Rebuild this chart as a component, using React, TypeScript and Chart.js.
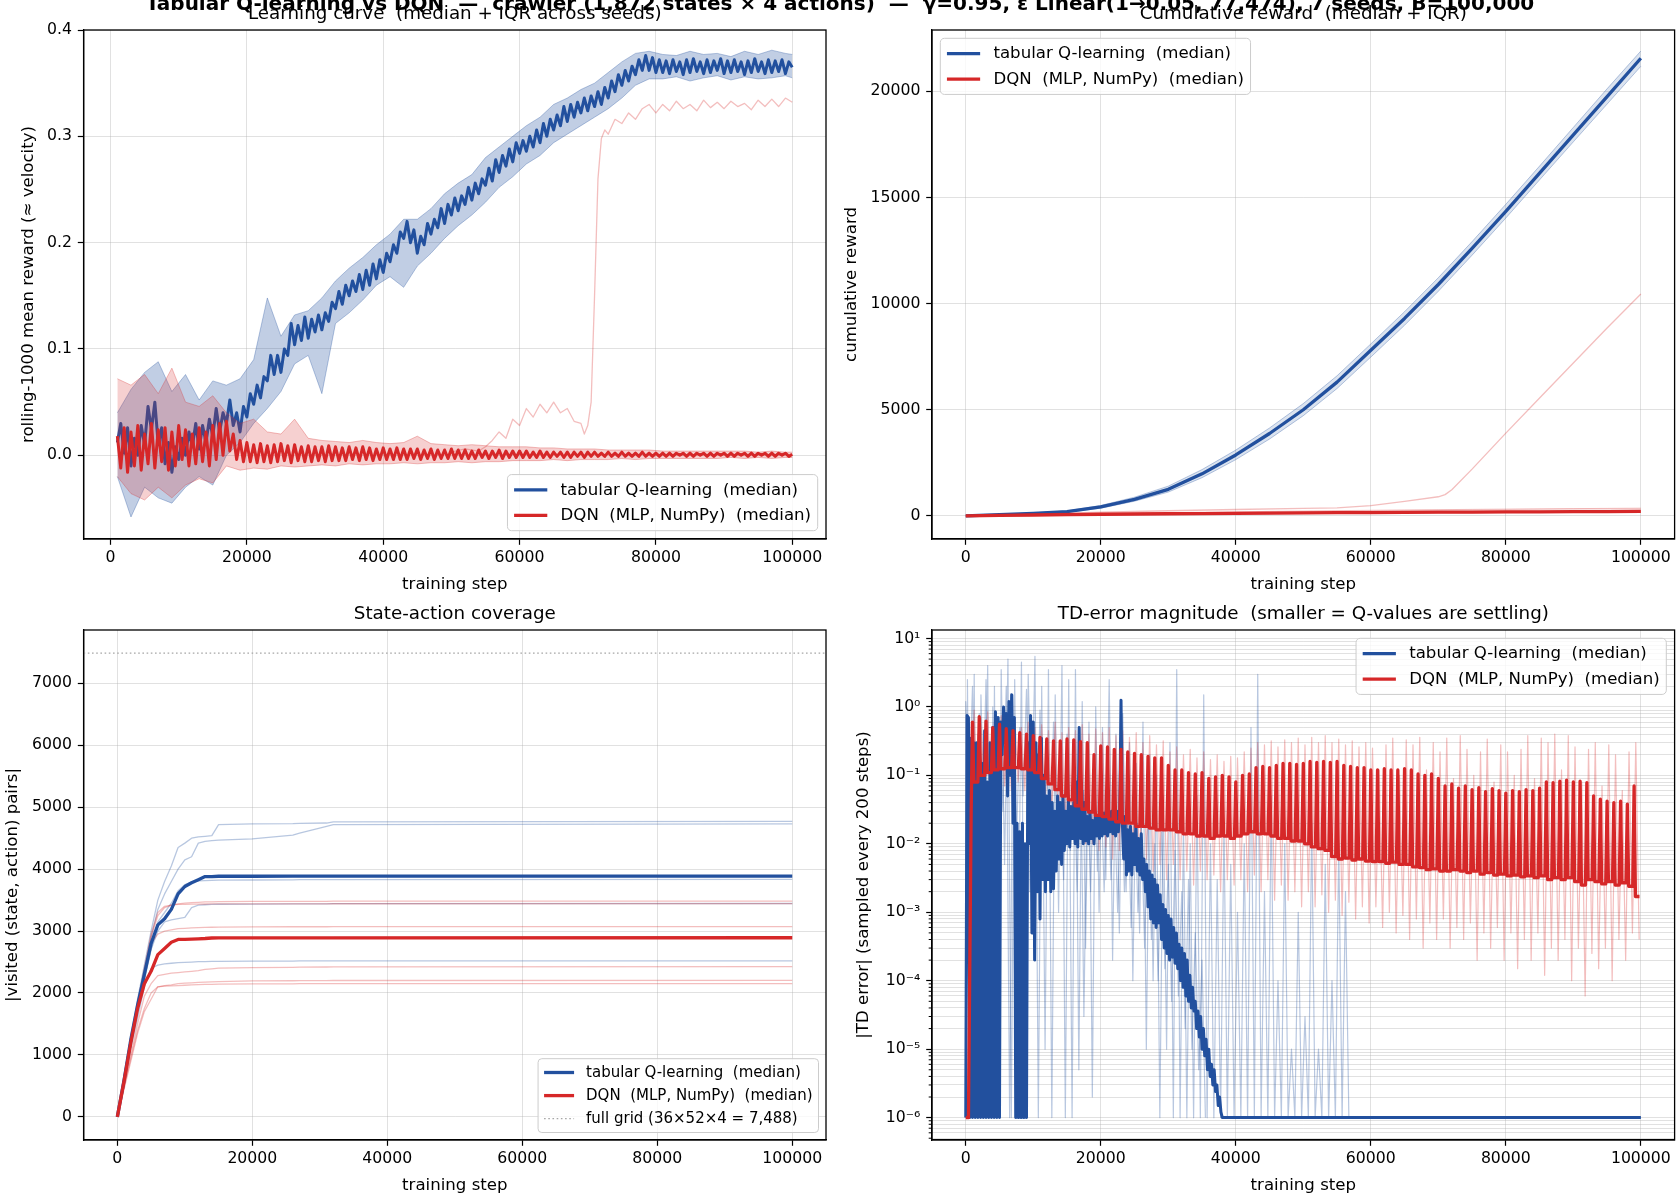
import { useEffect, useRef } from "react";
import { Chart, registerables } from "chart.js";

Chart.register(...registerables);

// ---------- page geometry & type ----------
const W = 1680;
const H = 1200;
const Y_AXIS_W = 80;
const X_AXIS_H = 44;

const FONT = '"DejaVu Sans", "Liberation Sans", sans-serif';
const TICK_PX = 15.7;
const LABEL_PX = 16.6;
const TITLE_PX = 18.3;
const SUPTITLE_PX = 20;

const BLUE = "#22509e";
const RED = "#d62728";
const BLUE_SOFT = "rgba(34,80,158,0.32)";
const BLUE_FILL = "rgba(34,80,158,0.28)";
const RED_SOFT = "rgba(214,39,40,0.3)";
const RED_FILL = "rgba(214,39,40,0.22)";
const GREY_DOT = "#a6a6a6";
const GRID = "rgba(176,176,176,0.38)";

Chart.defaults.font.family = FONT;

const SUPTITLE =
  "Tabular Q-learning vs DQN  —  crawler (1,872 states × 4 actions)  —  γ=0.95, ε Linear(1→0.05, 77,474), 7 seeds, B=100,000";

// ---------- helpers ----------
type Pt = { x: number; y: number };
const grid = (start: number, step: number, n: number): number[] =>
  Array.from({ length: n }, (_, i) => start + i * step);
const zip = (xs: number[], ys: number[]): Pt[] => ys.map((y, i) => ({ x: xs[i], y }));
const weave = (...parts: Pt[][]): Pt[] => parts.flat().sort((a, b) => a.x - b.x);

// ---------- learning curve (rolling-1000 mean reward, every 500 steps) ----------
const STEPS_500 = grid(1000, 500, 199);
const BAND_STEPS = grid(1000, 2000, 50).concat([100000]);

const Q_REWARD_MED = [
  0.012, 0.03, 0.002, 0.026, -0.01, 0.016, 0.0, 0.028, 0.01, 0.046, 0.024, 0.05, 0.01, 0.026, -0.008, 0.012, -0.016, 0.008, -0.004, 0.016,
  0.0, 0.022, 0.008, 0.03, 0.006, 0.028, 0.012, 0.034, 0.018, 0.044, 0.022, 0.04, 0.03, 0.052, 0.028, 0.04, 0.022, 0.046, 0.036, 0.058,
  0.048, 0.066, 0.054, 0.074, 0.07, 0.094, 0.076, 0.094, 0.078, 0.1, 0.094, 0.124, 0.104, 0.122, 0.108, 0.13, 0.11, 0.128, 0.116, 0.132,
  0.118, 0.134, 0.126, 0.144, 0.138, 0.154, 0.142, 0.16, 0.15, 0.164, 0.154, 0.17, 0.156, 0.174, 0.16, 0.18, 0.166, 0.184, 0.172, 0.19,
  0.182, 0.198, 0.19, 0.21, 0.204, 0.22, 0.2, 0.212, 0.19, 0.206, 0.198, 0.218, 0.208, 0.222, 0.214, 0.232, 0.218, 0.236, 0.226, 0.242,
  0.23, 0.244, 0.236, 0.252, 0.24, 0.256, 0.246, 0.26, 0.254, 0.27, 0.258, 0.278, 0.266, 0.282, 0.272, 0.288, 0.276, 0.294, 0.284, 0.296,
  0.286, 0.3, 0.29, 0.306, 0.294, 0.312, 0.3, 0.316, 0.306, 0.32, 0.31, 0.328, 0.314, 0.33, 0.318, 0.332, 0.322, 0.336, 0.324, 0.338,
  0.328, 0.342, 0.33, 0.346, 0.336, 0.352, 0.342, 0.358, 0.348, 0.362, 0.352, 0.366, 0.358, 0.372, 0.362, 0.376, 0.362, 0.374, 0.36, 0.372,
  0.36, 0.371, 0.359, 0.372, 0.361, 0.37, 0.358, 0.372, 0.36, 0.373, 0.361, 0.37, 0.359, 0.372, 0.36, 0.371, 0.362, 0.373, 0.359, 0.371,
  0.36, 0.372, 0.361, 0.37, 0.358, 0.371, 0.36, 0.373, 0.361, 0.37, 0.359, 0.372, 0.36, 0.371, 0.361, 0.372, 0.359, 0.37, 0.365,
];
const Q_BAND_LO = [
  -0.02, -0.058, -0.03, -0.04, -0.045, -0.03, -0.02, -0.028, 0.0, 0.012,
  0.03, 0.044, 0.06, 0.086, 0.094, 0.058, 0.124, 0.134, 0.146, 0.16,
  0.168, 0.158, 0.178, 0.19, 0.204, 0.216, 0.226, 0.238, 0.252, 0.262,
  0.274, 0.282, 0.294, 0.302, 0.31, 0.318, 0.326, 0.336, 0.348, 0.354,
  0.354, 0.356, 0.352, 0.355, 0.357, 0.353, 0.356, 0.354, 0.355, 0.357, 0.355,
];
const Q_BAND_HI = [
  0.04, 0.062, 0.078, 0.088, 0.06, 0.076, 0.052, 0.07, 0.066, 0.072,
  0.09, 0.148, 0.112, 0.132, 0.136, 0.148, 0.164, 0.176, 0.186, 0.198,
  0.208, 0.222, 0.222, 0.232, 0.246, 0.256, 0.264, 0.28, 0.29, 0.3,
  0.31, 0.318, 0.33, 0.336, 0.344, 0.35, 0.36, 0.37, 0.378, 0.38,
  0.377, 0.376, 0.38, 0.377, 0.378, 0.375, 0.38, 0.377, 0.381, 0.378, 0.377,
];
const DQN_REWARD_MED = [
  0.018, -0.012, 0.026, -0.016, 0.022, -0.01, 0.028, -0.014, 0.02, -0.008, 0.03, -0.012, 0.024, -0.006, 0.026, -0.014, 0.022, -0.01, 0.028, -0.004,
  0.024, -0.01, 0.02, -0.008, 0.026, -0.006, 0.022, -0.01, 0.028, -0.004, 0.03, 0.0, 0.032, 0.004, 0.02, -0.004, 0.014, -0.006, 0.012, -0.006,
  0.01, -0.007, 0.011, -0.006, 0.009, -0.007, 0.01, -0.006, 0.011, -0.005, 0.009, -0.007, 0.01, -0.005, 0.008, -0.006, 0.009, -0.006, 0.008, -0.005,
  0.008, -0.006, 0.009, -0.005, 0.008, -0.005, 0.007, -0.005, 0.008, -0.004, 0.007, -0.005, 0.008, -0.004, 0.007, -0.005, 0.006, -0.004, 0.007, -0.004,
  0.006, -0.004, 0.007, -0.004, 0.006, -0.004, 0.006, -0.003, 0.006, -0.004, 0.005, -0.003, 0.006, -0.004, 0.005, -0.003, 0.005, -0.003, 0.006, -0.003,
  0.005, -0.003, 0.005, -0.003, 0.004, -0.003, 0.005, -0.002, 0.004, -0.003, 0.004, -0.002, 0.005, -0.003, 0.004, -0.002, 0.004, -0.002, 0.004, -0.002,
  0.004, -0.002, 0.003, -0.002, 0.004, -0.002, 0.003, -0.002, 0.003, -0.001, 0.003, -0.002, 0.003, -0.002, 0.003, -0.001, 0.003, -0.002, 0.003, -0.001,
  0.003, -0.001, 0.002, -0.001, 0.003, -0.001, 0.002, -0.001, 0.003, -0.001, 0.002, -0.001, 0.002, -0.001, 0.003, -0.001, 0.002, -0.001, 0.002, -0.001,
  0.002, -0.001, 0.002, -0.001, 0.002, 0.0, 0.002, -0.001, 0.002, -0.001, 0.002, 0.0, 0.002, -0.001, 0.002, -0.001, 0.002, 0.0, 0.002, -0.001,
  0.002, -0.001, 0.002, 0.0, 0.002, -0.001, 0.002, -0.001, 0.002, 0.0, 0.002, -0.001, 0.002, -0.001, 0.002, 0.0, 0.002, -0.001, 0.001,
];
const DQN_BAND_LO = [
  -0.02, -0.036, -0.042, -0.03, -0.04, -0.028, -0.022, -0.026, -0.01, -0.014,
  -0.012, -0.013, -0.01, -0.011, -0.01, -0.009, -0.01, -0.008, -0.009, -0.008,
  -0.008, -0.007, -0.008, -0.007, -0.007, -0.006, -0.007, -0.006, -0.006, -0.005,
  -0.005, -0.005, -0.004, -0.005, -0.004, -0.004, -0.004, -0.003, -0.004, -0.003,
  -0.003, -0.003, -0.003, -0.003, -0.003, -0.002, -0.003, -0.002, -0.003, -0.002, -0.002,
];
const DQN_BAND_HI = [
  0.072, 0.066, 0.076, 0.058, 0.082, 0.05, 0.046, 0.056, 0.04, 0.03,
  0.034, 0.022, 0.02, 0.034, 0.016, 0.014, 0.013, 0.012, 0.014, 0.012,
  0.011, 0.012, 0.018, 0.011, 0.01, 0.009, 0.01, 0.009, 0.008, 0.008,
  0.008, 0.007, 0.007, 0.006, 0.006, 0.006, 0.005, 0.005, 0.005, 0.005,
  0.004, 0.004, 0.004, 0.004, 0.004, 0.004, 0.004, 0.003, 0.004, 0.003, 0.003,
];
// the one DQN seed that eventually learns to crawl
const DQN_LATE_STEPS = [50000, 52000, 54000]
  .concat(grid(55000, 1000, 15))
  .concat(grid(69500, 500, 8))
  .concat(grid(74000, 1000, 27));
const DQN_LATE_REWARD = [
  0.003, 0.006, 0.004,
  0.008, 0.014, 0.022, 0.016, 0.034, 0.028, 0.044, 0.036, 0.048, 0.04, 0.05, 0.04, 0.044, 0.032, 0.03,
  0.02, 0.028, 0.05, 0.15, 0.26, 0.298, 0.306, 0.302,
  0.316, 0.312, 0.322, 0.316, 0.326, 0.33, 0.322, 0.33, 0.324, 0.333, 0.326, 0.33, 0.324, 0.334,
  0.327, 0.332, 0.326, 0.333, 0.328, 0.331, 0.325, 0.334, 0.328, 0.335, 0.328, 0.336, 0.332,
];

// ---------- cumulative reward ----------
const STEPS_5K = grid(0, 5000, 21);
const Q_CUM_MED = [0, 60, 120, 200, 420, 780, 1250, 1980, 2870, 3880, 5000, 6300, 7800, 9300, 10900, 12600, 14350, 16150, 17950, 19750, 21560];
const Q_CUM_LO = [0, 50, 100, 165, 360, 690, 1120, 1800, 2650, 3620, 4720, 6000, 7480, 8980, 10580, 12280, 14030, 15830, 17620, 19400, 21180];
const Q_CUM_HI = [0, 70, 140, 235, 490, 880, 1400, 2180, 3100, 4140, 5290, 6600, 8100, 9620, 11220, 12920, 14680, 16480, 18300, 20120, 21900];
const DQN_CUM_MED = [0, 20, 40, 60, 75, 88, 100, 110, 120, 130, 140, 148, 156, 164, 172, 180, 186, 192, 198, 204, 210];
const DQN_CUM_LO = [0, 12, 24, 36, 48, 58, 68, 78, 88, 98, 106, 114, 122, 130, 138, 145, 152, 158, 164, 170, 175];
const DQN_CUM_HI = [0, 28, 56, 82, 105, 128, 150, 170, 190, 210, 228, 246, 262, 278, 292, 305, 318, 330, 342, 352, 362];
const DQN_LATE_CUM_STEPS = [0, 10000, 20000, 30000, 40000, 50000, 55000, 60000, 65000, 70000, 71000, 72000, 75000, 80000, 85000, 90000, 95000, 100000];
const DQN_LATE_CUM = [0, 80, 170, 240, 300, 350, 380, 480, 680, 900, 1000, 1230, 2200, 3900, 5550, 7200, 8850, 10450];

// ---------- state-action coverage ----------
const COV_STEPS = [0, 1000, 2000, 3000, 4000, 5000, 6000, 7000, 8000, 9000, 10000, 11000, 12000, 13000, 14000, 15000, 20000, 26000, 27000, 31000, 32000, 100000];
const FULL_GRID = 7488;
const Q_COV_MED = [0, 600, 1250, 1800, 2300, 2800, 3100, 3200, 3350, 3600, 3720, 3780, 3830, 3880, 3880, 3885, 3885, 3886, 3886, 3887, 3887, 3888];
const DQN_COV_MED = [0, 580, 1200, 1750, 2150, 2350, 2620, 2720, 2820, 2865, 2866, 2870, 2875, 2880, 2888, 2890, 2890, 2890, 2890, 2891, 2891, 2892];
const Q_COV_SEEDS = [
  [0, 650, 1300, 1900, 2450, 3000, 3500, 3800, 4050, 4350, 4420, 4500, 4520, 4530, 4540, 4720, 4730, 4735, 4740, 4745, 4765, 4770],
  [0, 600, 1200, 1800, 2350, 2900, 3350, 3600, 3800, 4000, 4150, 4200, 4420, 4450, 4460, 4470, 4490, 4550, 4580, 4690, 4720, 4730],
  [0, 550, 1150, 1700, 2200, 2700, 3150, 3300, 3450, 3650, 3750, 3790, 3810, 3815, 3820, 3822, 3825, 3828, 3830, 3830, 3832, 3835],
  [0, 600, 1200, 1750, 2250, 2700, 3000, 3150, 3180, 3200, 3220, 3380, 3420, 3425, 3430, 3433, 3436, 3438, 3440, 3440, 3442, 3445],
  [0, 550, 1100, 1600, 2100, 2400, 2450, 2470, 2480, 2490, 2495, 2500, 2505, 2508, 2510, 2512, 2515, 2516, 2518, 2518, 2520, 2520],
];
const DQN_COV_SEEDS = [
  [0, 600, 1250, 1850, 2400, 2950, 3300, 3400, 3420, 3440, 3450, 3460, 3465, 3470, 3472, 3475, 3478, 3480, 3480, 3480, 3482, 3485],
  [0, 620, 1250, 1850, 2350, 2900, 3250, 3380, 3420, 3430, 3432, 3434, 3436, 3437, 3438, 3439, 3440, 3440, 3440, 3440, 3441, 3442],
  [0, 580, 1150, 1700, 2250, 2800, 2950, 3000, 3020, 3040, 3045, 3050, 3055, 3060, 3062, 3065, 3068, 3070, 3070, 3070, 3071, 3072],
  [0, 500, 1000, 1500, 1950, 2150, 2280, 2300, 2320, 2330, 2340, 2350, 2360, 2380, 2390, 2400, 2410, 2415, 2418, 2420, 2422, 2425],
  [0, 480, 950, 1400, 1750, 2000, 2100, 2120, 2130, 2150, 2160, 2165, 2170, 2175, 2180, 2185, 2195, 2198, 2200, 2200, 2202, 2205],
  [0, 450, 900, 1350, 1700, 1900, 2100, 2110, 2115, 2120, 2125, 2130, 2135, 2138, 2140, 2143, 2146, 2148, 2150, 2150, 2151, 2152],
];

// ---------- |TD error| (sampled every 200 steps) ----------
const Q_TD_STEPS = grid(0, 200, 191).concat([100000]);
const Q_TD_MED = [
  1e-6, 0.75, 0.7, 1e-6, 0.35, 1e-6, 0.3, 1e-6, 0.3, 1e-6,
  0.4, 1e-6, 0.15, 1e-6, 0.45, 1e-6, 0.08, 1e-6, 0.3, 1e-6,
  0.5, 1e-6, 0.85, 1e-6, 0.7, 1e-6, 0.6, 0.2, 1.0, 0.3,
  0.8, 0.05, 1.2, 0.1, 1.5, 0.02, 0.7, 1e-6, 0.02, 1e-6,
  0.015, 1e-6, 0.02, 1e-6, 0.01, 1e-6, 0.3, 0.01, 0.75, 0.0005,
  0.6, 0.0002, 0.3, 0.002, 0.2, 0.0008, 0.35, 0.003, 0.1, 0.002,
  0.05, 0.003, 0.06, 0.002, 0.04, 0.0022, 0.03, 0.004, 0.05, 0.006,
  0.04, 0.005, 0.05, 0.008, 0.03, 0.01, 0.045, 0.009, 0.035, 0.012,
  0.04, 0.01, 0.08, 0.009, 0.5, 0.012, 0.06, 0.01, 0.04, 0.011,
  0.025, 0.01, 0.03, 0.012, 0.022, 0.01, 0.028, 0.013, 0.025, 0.012,
  0.03, 0.013, 0.028, 0.014, 0.03, 0.013, 0.025, 0.015, 0.03, 0.014,
  0.028, 0.013, 0.03, 0.015, 0.026, 1.25, 0.02, 0.006, 0.025, 0.0035,
  0.016, 0.004, 0.018, 0.0035, 0.014, 0.005, 0.02, 0.004, 0.012, 0.0035,
  0.014, 0.003, 0.006, 0.002, 0.005, 0.0012, 0.004, 0.0008, 0.0035, 0.0007,
  0.003, 0.0006, 0.0025, 0.0007, 0.0018, 0.0004, 0.0013, 0.0003, 0.0011, 0.00025,
  0.0009, 0.0002, 0.0008, 0.00022, 0.0006, 0.00018, 0.0005, 0.00015, 0.00034, 0.0001,
  0.0003, 0.00008, 0.00025, 0.00006, 0.0002, 0.00005, 0.00012, 0.00004, 0.00008, 0.000036,
  0.00005, 0.00002, 0.000036, 0.000015, 0.00003, 0.00001, 0.00002, 0.000008, 0.000014, 0.000005,
  0.00001, 0.000004, 0.000006, 0.000003, 0.000005, 0.0000024, 0.000003, 0.0000015, 0.000002, 0.0000012,
  1e-6,
  1e-6,
];
// two individual tabular seeds, as alternating highs (k*1000 + 250) and lows (k*1000 + 750)
const Q_TD_SEED_A_HI = [
  2.5, 3, 1.5, 4, 2, 3.5, 5, 2.5, 4.5, 3,
  5.5, 2, 3.5, 1.5, 4, 2.5, 3.5, 1.2, 0.6, 1.0,
  0.5, 2.5, 0.4, 0.8, 0.3, 0.15, 0.6, 0.2, 0.1, 0.05,
  0.3, 3.5, 0.02, 0.01, 0.05, 1.5, 0.01, 0.003, 0.02, 0.005,
  0.001, 0.01, 0.5, 3, 0.002, 0.05, 1e-4, 0.01, 1e-5, 0.001,
  3e-5, 0.02, 1e-5, 0.005, 1e-4, 0.01, 0.002,
];
const Q_TD_SEED_A_LO = [
  1e-6, 1e-6, 0.01, 1e-6, 1e-6, 0.005, 1e-6, 1e-4, 1e-6, 0.02,
  1e-6, 1e-5, 1e-6, 0.001, 1e-6, 1e-6, 5e-6, 3e-4, 2e-6, 0.001,
  0.003, 2e-4, 5e-4, 0.002, 1e-4, 5e-4, 1e-5, 1e-4, 1e-6, 1e-5,
  1e-6, 1e-6, 1e-6, 1e-6, 1e-6, 1e-6, 1e-6, 1e-6, 1e-6, 1e-6,
  1e-6, 1e-6, 1e-6, 1e-6, 1e-6, 1e-6, 1e-6, 1e-6, 1e-6, 1e-6,
  1e-6, 1e-6, 1e-6, 1e-6, 1e-6, 1e-6, 1e-6,
];
const Q_TD_SEED_B_HI = [
  1.2, 2, 0.8, 2.5, 1, 0.6, 2, 1.5, 0.5, 1.8,
  0.4, 0.9, 0.3, 0.6, 0.2, 0.4, 0.15, 0.3, 0.1, 0.2,
  0.08, 0.15, 0.05, 0.1, 0.04, 0.06, 0.02, 0.04, 0.01, 0.02,
  0.005, 0.008, 0.002, 0.003, 5e-4, 2e-4,
];
const Q_TD_SEED_B_LO = [
  0.05, 0.002, 0.02, 1e-6, 0.01, 0.03, 1e-6, 0.01, 0.05, 0.002,
  0.01, 0.003, 0.005, 0.01, 0.003, 0.008, 0.002, 3e-5, 0.002, 0.004,
  0.002, 0.003, 0.001, 0.002, 6e-4, 0.001, 3e-4, 4e-4, 1e-4, 1.5e-4,
  5e-5, 6e-5, 2e-5, 1e-5, 5e-6, 1e-6,
];
// DQN median: spike tops at k*1000 (k = 1..99); level between spikes held from k*1000+200 to k*1000+800 (k = 0..99)
const DQN_TD_PEAK = [
  0.6, 0.72, 0.62, 0.5, 0.56, 0.48, 0.45, 0.42, 0.4, 0.38,
  0.36, 0.34, 0.32, 0.32, 0.34, 0.33, 0.31, 0.3, 0.2, 0.27,
  0.26, 0.24, 0.24, 0.22, 0.21, 0.2, 0.19, 0.18, 0.18, 0.14,
  0.12, 0.12, 0.11, 0.105, 0.11, 0.09, 0.095, 0.1, 0.095, 0.08,
  0.1, 0.105, 0.13, 0.135, 0.13, 0.14, 0.15, 0.15, 0.145, 0.15,
  0.16, 0.155, 0.16, 0.155, 0.16, 0.14, 0.135, 0.13, 0.13, 0.12,
  0.12, 0.125, 0.12, 0.12, 0.125, 0.12, 0.105, 0.1, 0.105, 0.09,
  0.07, 0.075, 0.065, 0.07, 0.062, 0.066, 0.058, 0.064, 0.06, 0.055,
  0.06, 0.058, 0.062, 0.06, 0.065, 0.08, 0.078, 0.082, 0.085, 0.08,
  0.082, 0.078, 0.05, 0.045, 0.042, 0.04, 0.042, 0.038, 0.07,
];
const DQN_TD_FLOOR = [
  0.03, 0.08, 0.1, 0.11, 0.12, 0.125, 0.13, 0.13, 0.125, 0.12,
  0.11, 0.09, 0.075, 0.062, 0.05, 0.044, 0.036, 0.032, 0.029, 0.026,
  0.025, 0.023, 0.021, 0.02, 0.02, 0.018, 0.018, 0.017, 0.016, 0.016,
  0.016, 0.015, 0.014, 0.014, 0.013, 0.013, 0.012, 0.013, 0.013, 0.012,
  0.013, 0.014, 0.015, 0.014, 0.014, 0.013, 0.012, 0.012, 0.011, 0.011,
  0.01, 0.009, 0.0085, 0.008, 0.0065, 0.006, 0.0062, 0.0058, 0.006, 0.0056,
  0.0055, 0.0055, 0.0052, 0.0054, 0.005, 0.005, 0.0046, 0.0045, 0.0042, 0.0043,
  0.004, 0.004, 0.0042, 0.004, 0.0038, 0.004, 0.0036, 0.0038, 0.0035, 0.0036,
  0.0034, 0.0035, 0.0033, 0.0034, 0.0032, 0.0034, 0.003, 0.0032, 0.003, 0.0032,
  0.0028, 0.0025, 0.003, 0.0028, 0.0026, 0.0028, 0.0025, 0.0027, 0.0024, 0.0017,
];
// spread of the individual DQN seeds: highs at k*1000 + 250, lows at k*1000 + 750
const DQN_TD_SEED_HI = [
  0.3, 0.9, 0.7, 0.85, 0.6, 0.75, 0.55, 0.7, 0.5, 0.6,
  0.5, 0.55, 0.45, 0.6, 0.42, 0.5, 0.45, 0.55, 0.4, 0.48,
  0.42, 0.5, 0.38, 0.45, 0.36, 0.42, 0.3, 0.38, 0.28, 0.32,
  0.22, 0.26, 0.2, 0.24, 0.18, 0.22, 0.17, 0.2, 0.16, 0.19,
  0.18, 0.22, 0.25, 0.3, 0.28, 0.32, 0.26, 0.33, 0.3, 0.35,
  0.28, 0.36, 0.3, 0.38, 0.3, 0.34, 0.28, 0.32, 0.26, 0.3,
  0.25, 0.12, 0.28, 0.35, 0.1, 0.33, 0.28, 0.36, 0.12, 0.3,
  0.22, 0.35, 0.09, 0.38, 0.24, 0.1, 0.22, 0.34, 0.08, 0.28,
  0.22, 0.1, 0.24, 0.38, 0.09, 0.35, 0.3, 0.4, 0.12, 0.38,
  0.26, 0.08, 0.24, 0.3, 0.07, 0.28, 0.2, 0.06, 0.22, 0.3,
];
const DQN_TD_SEED_LO = [
  0.02, 0.05, 0.04, 0.06, 0.05, 0.07, 0.06, 0.08, 0.06, 0.05,
  0.04, 0.035, 0.03, 0.02, 0.02, 0.015, 0.012, 0.01, 0.01, 0.008,
  0.009, 0.006, 0.008, 0.005, 0.007, 0.004, 0.006, 0.004, 0.005, 0.003,
  0.005, 0.003, 0.004, 0.0025, 0.004, 0.003, 0.0035, 0.002, 0.003, 0.0025,
  0.003, 0.002, 0.0035, 0.002, 0.003, 0.0015, 0.0025, 0.0015, 0.002, 0.0012,
  0.002, 0.0012, 0.0018, 0.001, 0.0015, 0.0009, 0.0014, 0.0008, 0.0012, 0.0007,
  0.0012, 0.0006, 0.001, 0.0005, 0.0009, 0.0004, 0.0008, 0.0003, 0.0007, 0.0004,
  0.0008, 0.0003, 0.0006, 0.0004, 0.0007, 0.0002, 0.0005, 0.0003, 0.0006, 0.0002,
  0.0005, 0.00015, 0.0004, 0.0002, 0.0005, 0.00012, 0.0003, 0.0002, 0.0004, 0.0001,
  0.0003, 0.00006, 0.00025, 0.00015, 0.0003, 0.0001, 0.0004, 0.0002, 0.0005, 0.0004,
];

// ---------- tick labels ----------
const STEP_TICKS = [0, 20000, 40000, 60000, 80000, 100000];
const REWARD_TICKS = [0, 0.1, 0.2, 0.3, 0.4];
const CUM_TICKS = [0, 5000, 10000, 15000, 20000];
const COV_TICKS = [0, 1000, 2000, 3000, 4000, 5000, 6000, 7000];
const TD_DECADES = [-6, -5, -4, -3, -2, -1, 0, 1];
const SUP: Record<string, string> = { "-": "⁻", "0": "⁰", "1": "¹", "2": "²", "3": "³", "4": "⁴", "5": "⁵", "6": "⁶", "7": "⁷", "8": "⁸", "9": "⁹" };
const pow10Label = (e: number) => "10" + String(e).split("").map((c) => SUP[c]).join("");
const TD_MAJOR = TD_DECADES.map((e) => Math.pow(10, e));
const TD_MINOR: number[] = [];
for (let e = -7; e <= 1; e++) for (let m = 2; m <= 9; m++) TD_MINOR.push(m * Math.pow(10, e));
const isPow10 = (v: number) => Math.abs(Math.log10(v) - Math.round(Math.log10(v))) < 1e-9;

// ---------- dataset builders ----------
const line = (data: Pt[], color: string, width: number, extra: any = {}) => ({
  data,
  borderColor: color,
  borderWidth: width,
  pointRadius: 0,
  pointHoverRadius: 0,
  tension: 0,
  fill: false,
  borderJoinStyle: "round",
  borderCapStyle: "butt",
  clip: 0,
  ...extra,
});
const band = (lo: Pt[], hi: Pt[], edge: string, fillColor: string) => [
  line(lo, edge, 1),
  line(hi, edge, 1, { fill: "-1", backgroundColor: fillColor }),
];

type LegendItem = { label: string; color: string; width: number; dash?: number[] };
type Panel = {
  area: { l: number; t: number; r: number; b: number };
  x: { min: number; max: number; ticks: number[] };
  y: { min: number; max: number; ticks: number[]; log?: boolean; fmt: (v: number) => string };
  title: string;
  xLabel: string;
  yLabel: string;
  yLabelX: number;
  legend: { loc: string; size: number; items: LegendItem[] };
  series: any[];
  suptitle?: string;
};

const LEGEND_MAIN: LegendItem[] = [
  { label: "tabular Q-learning  (median)", color: BLUE, width: 3.3 },
  { label: "DQN  (MLP, NumPy)  (median)", color: RED, width: 3.3 },
];

const AREA_TL = { l: 83.6, t: 30, r: 826, b: 539 };
const AREA_TR = { l: 932, t: 30, r: 1674.6, b: 539 };
const AREA_BL = { l: 83.6, t: 630, r: 826, b: 1140 };
const AREA_BR = { l: 932, t: 630, r: 1674.6, b: 1140 };

const PANELS: Panel[] = [
  {
    area: AREA_TL,
    x: { min: -3950, max: 104950, ticks: STEP_TICKS },
    y: { min: -0.0787, max: 0.4, ticks: REWARD_TICKS, fmt: (v) => v.toFixed(1) },
    title: "Learning curve  (median + IQR across seeds)",
    xLabel: "training step",
    yLabel: "rolling-1000 mean reward (≈ velocity)",
    yLabelX: 29,
    legend: { loc: "lower right", size: 16.6, items: LEGEND_MAIN },
    suptitle: SUPTITLE,
    series: [
      ...band(zip(BAND_STEPS, Q_BAND_LO), zip(BAND_STEPS, Q_BAND_HI), BLUE_SOFT, BLUE_FILL),
      line(zip(STEPS_500, Q_REWARD_MED), BLUE, 3.0),
      ...band(zip(BAND_STEPS, DQN_BAND_LO), zip(BAND_STEPS, DQN_BAND_HI), RED_SOFT, RED_FILL),
      line(zip(DQN_LATE_STEPS, DQN_LATE_REWARD), RED_SOFT, 1.3),
      line(zip(STEPS_500, DQN_REWARD_MED), RED, 3.0),
    ],
  },
  {
    area: AREA_TR,
    x: { min: -5000, max: 105000, ticks: STEP_TICKS },
    y: { min: -1090, max: 22890, ticks: CUM_TICKS, fmt: (v) => String(v) },
    title: "Cumulative reward  (median + IQR)",
    xLabel: "training step",
    yLabel: "cumulative reward",
    yLabelX: 852,
    legend: { loc: "upper left", size: 16.6, items: LEGEND_MAIN },
    series: [
      ...band(zip(STEPS_5K, Q_CUM_LO), zip(STEPS_5K, Q_CUM_HI), BLUE_SOFT, "rgba(34,80,158,0.16)"),
      line(zip(STEPS_5K, Q_CUM_MED), BLUE, 3.3),
      ...band(zip(STEPS_5K, DQN_CUM_LO), zip(STEPS_5K, DQN_CUM_HI), RED_SOFT, "rgba(214,39,40,0.14)"),
      line(zip(DQN_LATE_CUM_STEPS, DQN_LATE_CUM), RED_SOFT, 1.3),
      line(zip(STEPS_5K, DQN_CUM_MED), RED, 3.3),
    ],
  },
  {
    area: AREA_BL,
    x: { min: -5000, max: 105000, ticks: STEP_TICKS },
    y: { min: -374, max: 7862, ticks: COV_TICKS, fmt: (v) => String(v) },
    title: "State-action coverage",
    xLabel: "training step",
    yLabel: "|visited (state, action) pairs|",
    yLabelX: 13,
    legend: {
      loc: "lower right",
      size: 15,
      items: [
        { label: "tabular Q-learning  (median)", color: BLUE, width: 3.3 },
        { label: "DQN  (MLP, NumPy)  (median)", color: RED, width: 3.3 },
        { label: "full grid (36×52×4 = 7,488)", color: GREY_DOT, width: 1.3, dash: [1.6, 2.6] },
      ],
    },
    series: [
      ...Q_COV_SEEDS.map((s) => line(zip(COV_STEPS, s), BLUE_SOFT, 1.3)),
      ...DQN_COV_SEEDS.map((s) => line(zip(COV_STEPS, s), RED_SOFT, 1.3)),
      line([{ x: -5000, y: FULL_GRID }, { x: 105000, y: FULL_GRID }], GREY_DOT, 1.3, { borderDash: [1.6, 2.6] }),
      line(zip(COV_STEPS, Q_COV_MED), BLUE, 3.3),
      line(zip(COV_STEPS, DQN_COV_MED), RED, 3.3),
    ],
  },
  {
    area: AREA_BR,
    x: { min: -5000, max: 105000, ticks: STEP_TICKS },
    y: {
      min: 4.71e-7,
      max: 13.3,
      log: true,
      ticks: TD_MAJOR,
      fmt: (v) => (isPow10(v) ? pow10Label(Math.round(Math.log10(v))) : ""),
    },
    title: "TD-error magnitude  (smaller = Q-values are settling)",
    xLabel: "training step",
    yLabel: "|TD error| (sampled every 200 steps)",
    yLabelX: 863.5,
    legend: { loc: "upper right", size: 16.6, items: LEGEND_MAIN },
    series: [
      line(
        weave([{ x: 0, y: 1e-6 }], zip(grid(0, 1000, 36), Q_TD_SEED_B_HI), zip(grid(500, 1000, 36), Q_TD_SEED_B_LO)),
        BLUE_SOFT,
        1.2
      ),
      line(
        weave(
          [{ x: 0, y: 1e-6 }, { x: 100000, y: 1e-6 }],
          zip(grid(250, 1000, 57), Q_TD_SEED_A_HI),
          zip(grid(750, 1000, 57), Q_TD_SEED_A_LO)
        ),
        BLUE_SOFT,
        1.2
      ),
      line(
        weave([{ x: 0, y: 1e-6 }], zip(grid(250, 1000, 100), DQN_TD_SEED_HI), zip(grid(750, 1000, 100), DQN_TD_SEED_LO)),
        RED_SOFT,
        1.2
      ),
      line(zip(Q_TD_STEPS, Q_TD_MED), BLUE, 3.0),
      line(
        weave(
          [{ x: 0, y: 1e-6 }, { x: 400, y: 1e-6 }],
          zip(grid(1000, 1000, 99), DQN_TD_PEAK),
          zip(grid(200, 1000, 100), DQN_TD_FLOOR).slice(1),
          zip(grid(800, 1000, 100), DQN_TD_FLOOR)
        ),
        RED,
        3.3
      ),
    ],
  },
];

// ---------- legend, frame and text ----------
function drawLegend(ctx: CanvasRenderingContext2D, a: any, L: Panel["legend"]) {
  const fs = L.size;
  ctx.font = `${fs}px ${FONT}`;
  const pad = 0.4 * fs;
  const handle = 2 * fs;
  const gap = 0.8 * fs;
  const rowH = 1.04 * fs;
  const spacing = 0.5 * fs;
  const inset = 0.5 * fs;
  const tw = Math.max(...L.items.map((it) => ctx.measureText(it.label).width));
  const w = 2 * pad + handle + gap + tw;
  const h = 2 * pad + L.items.length * rowH + (L.items.length - 1) * spacing;
  const x0 = L.loc.includes("right") ? a.right - inset - w : a.left + inset;
  const y0 = L.loc.includes("lower") ? a.bottom - inset - h : a.top + inset;

  ctx.beginPath();
  if ((ctx as any).roundRect) (ctx as any).roundRect(x0, y0, w, h, 0.25 * fs);
  else ctx.rect(x0, y0, w, h);
  ctx.fillStyle = "rgba(255,255,255,0.8)";
  ctx.fill();
  ctx.strokeStyle = "#cccccc";
  ctx.lineWidth = 1;
  ctx.stroke();

  L.items.forEach((it, i) => {
    const cy = y0 + pad + rowH / 2 + i * (rowH + spacing);
    ctx.save();
    ctx.beginPath();
    ctx.strokeStyle = it.color;
    ctx.lineWidth = it.width;
    ctx.setLineDash(it.dash || []);
    ctx.moveTo(x0 + pad, cy);
    ctx.lineTo(x0 + pad + handle, cy);
    ctx.stroke();
    ctx.restore();
    ctx.fillStyle = "#000";
    ctx.textAlign = "left";
    ctx.textBaseline = "middle";
    ctx.fillText(it.label, x0 + pad + handle + gap, cy + 0.5);
  });
}

function decor(p: Panel) {
  return {
    id: "decor",
    afterDraw(chart: any) {
      const ctx: CanvasRenderingContext2D = chart.ctx;
      const a = chart.chartArea;
      ctx.save();
      if (p.y.log) {
        const ys = chart.scales.y;
        ctx.strokeStyle = "#000";
        ctx.lineWidth = 1;
        for (const v of TD_MINOR) {
          if (v < p.y.min || v > p.y.max) continue;
          const py = ys.getPixelForValue(v);
          ctx.beginPath();
          ctx.moveTo(a.left, py);
          ctx.lineTo(a.left - 3.3, py);
          ctx.stroke();
        }
      }
      ctx.strokeStyle = "#000";
      ctx.lineWidth = 1.3;
      ctx.strokeRect(a.left, a.top, a.right - a.left, a.bottom - a.top);

      const cx = (a.left + a.right) / 2;
      ctx.fillStyle = "#000";
      ctx.textAlign = "center";
      ctx.textBaseline = "alphabetic";
      ctx.font = `${TITLE_PX}px ${FONT}`;
      ctx.fillText(p.title, cx, a.top - 11.5);
      ctx.font = `${LABEL_PX}px ${FONT}`;
      ctx.fillText(p.xLabel, cx, a.bottom + 50);
      ctx.save();
      ctx.translate(p.yLabelX, (a.top + a.bottom) / 2);
      ctx.rotate(-Math.PI / 2);
      ctx.textBaseline = "middle";
      ctx.fillText(p.yLabel, 0, 0);
      ctx.restore();

      drawLegend(ctx, a, p.legend);

      if (p.suptitle) {
        ctx.fillStyle = "#000";
        ctx.textAlign = "center";
        ctx.textBaseline = "alphabetic";
        ctx.font = `bold ${SUPTITLE_PX}px ${FONT}`;
        ctx.fillText(p.suptitle, W / 2, 9.5);
      }
      ctx.restore();
    },
  };
}

function makeConfig(p: Panel): any {
  const n = p.series.length;
  const datasets = p.series.map((d, i) => ({ ...d, order: n - i }));
  const tickFont = { family: FONT, size: TICK_PX };
  const yTicks = p.y.log ? [...p.y.ticks, ...TD_MINOR.filter((v) => v >= p.y.min && v <= p.y.max)].sort((u, v) => u - v) : p.y.ticks;
  return {
    type: "line",
    data: { datasets },
    options: {
      animation: false,
      responsive: false,
      devicePixelRatio: 1,
      events: [],
      parsing: false,
      layout: {
        padding: {
          left: p.area.l - Y_AXIS_W,
          top: p.area.t,
          right: W - p.area.r,
          bottom: H - p.area.b - X_AXIS_H,
        },
      },
      plugins: { legend: { display: false }, tooltip: { enabled: false }, title: { display: false } },
      scales: {
        x: {
          type: "linear",
          min: p.x.min,
          max: p.x.max,
          afterBuildTicks: (s: any) => {
            s.ticks = p.x.ticks.map((v) => ({ value: v }));
          },
          afterFit: (s: any) => {
            s.height = X_AXIS_H;
          },
          ticks: {
            autoSkip: false,
            maxRotation: 0,
            color: "#000",
            font: tickFont,
            padding: 4,
            callback: (v: any) => String(v),
          },
          grid: { color: GRID, lineWidth: 1, tickColor: "#000", tickLength: 5.8, tickWidth: 1.2 },
          border: { display: true, color: "#000", width: 1.3 },
        },
        y: {
          type: p.y.log ? "logarithmic" : "linear",
          min: p.y.min,
          max: p.y.max,
          afterBuildTicks: (s: any) => {
            s.ticks = yTicks.map((v) => ({ value: v }));
          },
          afterFit: (s: any) => {
            s.width = Y_AXIS_W;
          },
          ticks: {
            autoSkip: false,
            color: "#000",
            font: tickFont,
            padding: 5.8,
            callback: (v: any) => p.y.fmt(Number(v)),
          },
          grid: {
            color: GRID,
            lineWidth: 1,
            tickColor: (c: any) => (!p.y.log || (c.tick && isPow10(c.tick.value)) ? "#000" : "rgba(0,0,0,0)"),
            tickLength: 5.8,
            tickWidth: 1.2,
          },
          border: { display: true, color: "#000", width: 1.3 },
        },
      },
    },
    plugins: [decor(p)],
  };
}

function PanelCanvas({ panel }: { panel: Panel }) {
  const ref = useRef<HTMLCanvasElement>(null);
  useEffect(() => {
    if (!ref.current) return;
    const chart = new Chart(ref.current, makeConfig(panel));
    return () => chart.destroy();
  }, [panel]);
  return (
    <canvas
      ref={ref}
      width={W}
      height={H}
      style={{ position: "absolute", left: 0, top: 0, width: W, height: H }}
    />
  );
}

export default function App() {
  return (
    <div
      style={{
        position: "fixed",
        left: 0,
        top: 0,
        width: W,
        height: H,
        background: "#ffffff",
        overflow: "hidden",
      }}
    >
      {PANELS.map((p, i) => (
        <PanelCanvas key={i} panel={p} />
      ))}
    </div>
  );
}
